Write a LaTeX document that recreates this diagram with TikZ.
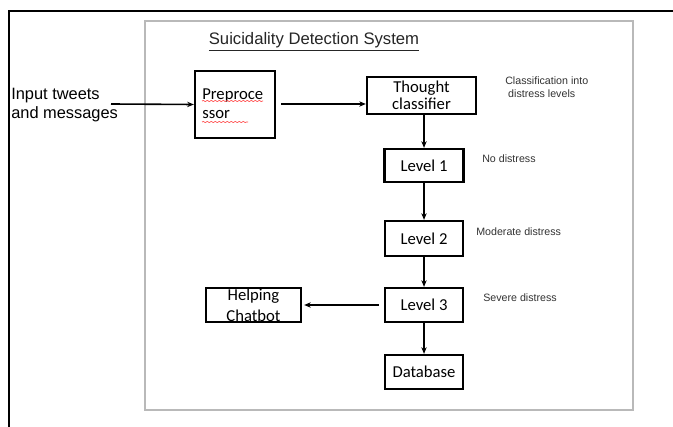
\documentclass[tikz,border=0pt]{standalone}
\usepackage{fontspec}
\setmainfont{Liberation Sans}
\newfontfamily\boxfont{Carlito}
\usetikzlibrary{arrows.meta,decorations.pathmorphing}
\begin{document}
\begin{tikzpicture}[x=0.75pt,y=-0.75pt,
  blk/.style={draw=black,line width=1.7pt,inner sep=0pt,font=\boxfont\fontsize{12.5}{14}\selectfont,align=center},
  conn/.style={line width=1.2pt,-{Stealth[length=5pt,width=4pt]}},
  note/.style={font=\fontsize{8}{9.75}\selectfont,text=black!80,anchor=west,align=left,inner sep=0pt},
  squig/.style={red!70,line width=0.5pt,decorate,decoration={snake,segment length=3pt,amplitude=0.4pt}}]
\useasboundingbox (0,0) rectangle (673,427);
\fill[white] (0,0) rectangle (673,427);
% outer frame
\draw[line width=1.3pt] (673,11) -- (9,11) -- (9,427);
% system box
\draw[gray!55,line width=1pt] (145,21) rectangle (633,410);
\node[font=\fontsize{12.5}{15}\selectfont,text=black!85] (title) at (314,42) {\underline{Suicidality Detection System}};
% input
\node[anchor=west,align=left,inner sep=0pt,font=\fontsize{12.3}{14.2}\selectfont] (input) at (11,105) {Input tweets\\and messages};
\coordinate (inarr) at (111,104);
% boxes
\node[blk,minimum width=60pt,minimum height=50.25pt] (pre) at (235,104.5) {};
\node[anchor=west,inner sep=0pt,font=\boxfont\fontsize{12.5}{14}\selectfont] (pretxt1) at (202,95) {Preproce};
\node[anchor=west,inner sep=0pt,font=\boxfont\fontsize{12.5}{14}\selectfont] (pretxt2) at (202,115) {ssor};
\draw[squig] (202,101) -- (263,101);
\draw[squig] (202,122) -- (248,122);
\node[blk,minimum width=81.75pt,minimum height=27.75pt] (thought) at (421.5,95.5) {Thought\\[-1pt]classifier};
\node[blk,minimum width=59.25pt,minimum height=24.75pt] (l1) at (424,165.5) {Level 1};
\node[blk,minimum width=58pt,minimum height=26.25pt] (l2) at (424,238.5) {Level 2};
\node[blk,minimum width=58.5pt,minimum height=25.5pt] (l3) at (424,305) {Level 3};
\node[blk,minimum width=58.5pt,minimum height=25.5pt] (db) at (424,372) {Database};
\node[draw=black,line width=1.7pt,minimum width=71.25pt,minimum height=25.5pt,inner sep=0pt] (bot) at (253.5,305) {};
\node[font=\boxfont\fontsize{12.5}{14}\selectfont,align=center,inner sep=0pt] (bottxt) at (253.5,305) {Helping\\[1.5pt]Chatbot};
% side notes
\node[note] (n0) at (505,87.5) {Classification into\\\ distress levels};
\node[note] (n1) at (482,159) {No distress};
\node[note] (n2) at (476,232) {Moderate distress};
\node[note] (n3) at (483,298) {Severe distress};
% connectors
\draw[conn] (inarr) -- (pre.west);
\draw[conn,shorten <=4pt] (pre.east |- inarr) -- (thought.west |- inarr);
\draw[conn] (l1 |- thought.south) -- (l1);
\draw[conn] (l1) -- (l2);
\draw[conn] (l2) -- (l3);
\draw[conn] (l3) -- (db);
\draw[conn,shorten <=4pt,shorten >=1.5pt] (l3) -- (bot);
\end{tikzpicture}
\end{document}
